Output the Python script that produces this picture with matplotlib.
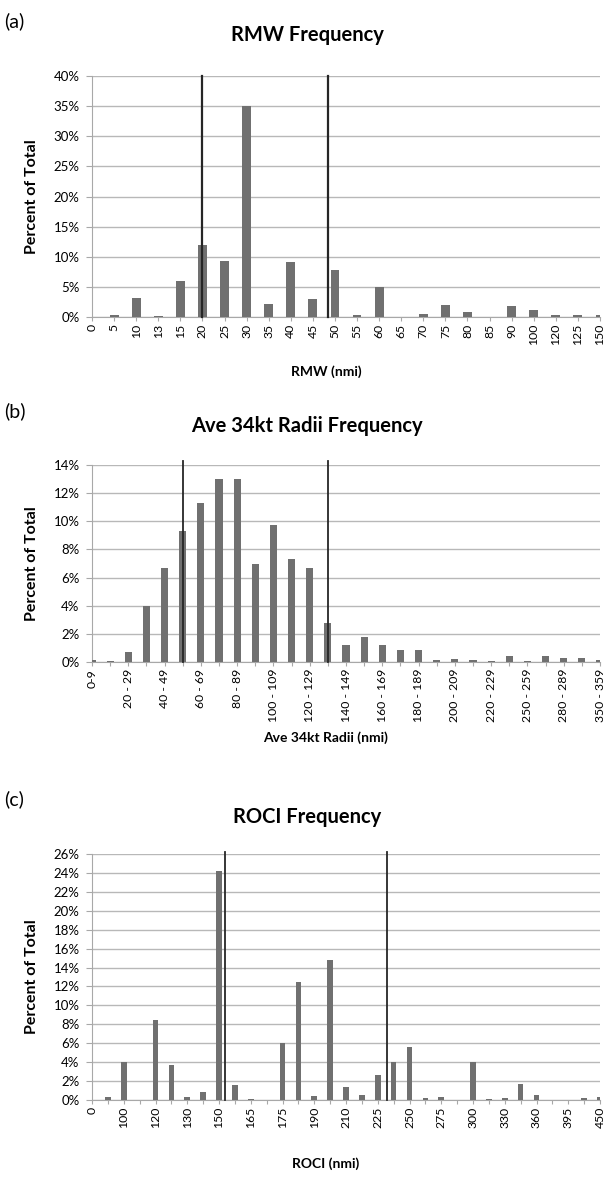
# Frecuencias de RMW, radio medio de 34 kt y ROCI (tres paneles tipo Excel)
import numpy as np
import matplotlib
matplotlib.use('Agg')
import matplotlib.pyplot as plt
from matplotlib.ticker import PercentFormatter

plt.rcParams['font.family'] = ['Lato', 'DejaVu Sans']

# (a) RMW
rmw_labels = ['0', '5', '10', '13', '15', '20', '25', '30', '35', '40', '45', '50',
              '55', '60', '65', '70', '75', '80', '85', '90', '100', '120', '125', '150']
rmw_pct = [0, 0.25, 3.1, 0.15, 5.9, 11.9, 9.25, 35.0, 2.1, 9.15, 3.0, 7.85,
           0.3, 5.0, 0, 0.55, 2.05, 0.8, 0, 1.75, 1.1, 0.3, 0.3, 0.25]
rmw_lines = [20, 48.4]

# (b) radio medio de 34 kt
r34_labels = ['0-9', '10 - 19', '20 - 29', '30 - 39', '40 - 49', '50 - 59', '60 - 69',
              '70 - 79', '80 - 89', '90 - 99', '100 - 109', '110 - 119', '120 - 129',
              '130 - 139', '140 - 149', '150 - 159', '160 - 169', '170 - 179',
              '180 - 189', '190 - 199', '200 - 209', '210 - 219', '220 - 229',
              '240 - 249', '250 - 259', '270 - 279', '280 - 289', '300 - 309', '350 - 359']
r34_pct = [0.17, 0.05, 0.74, 4.0, 6.65, 9.3, 11.3, 13.0, 13.0, 6.95, 9.75, 7.35, 6.65,
           2.8, 1.2, 1.75, 1.2, 0.87, 0.87, 0.14, 0.19, 0.14, 0.05, 0.4, 0.05, 0.4,
           0.27, 0.27, 0.14]
r34_lines = [50, 130]

# (c) ROCI
roci_labels = ['0', '90', '100', '110', '120', '125', '130', '140', '150', '160', '165',
               '170', '175', '180', '190', '200', '210', '220', '225', '240', '250',
               '260', '275', '280', '300', '325', '330', '350', '360', '375', '395',
               '400', '450']
roci_pct = [0, 0.28, 4.0, 0, 8.45, 3.7, 0.28, 0.8, 24.2, 1.55, 0.1, 0, 6.0, 12.45,
            0.42, 14.8, 1.35, 0.56, 2.6, 4.0, 5.6, 0.18, 0.32, 0, 4.0, 0.1, 0.25,
            1.7, 0.5, 0, 0, 0.18, 0.32]
roci_lines = [153.6, 233.5]

W, H = 609, 1177
fig = plt.figure(figsize=(W / 100, H / 100), dpi=100)

BAR = '#707070'
LINEA = '#262626'
GRID = '#b8b8b8'
EJE = '#a8a8a8'
IZQ, DER = 92, 600


def px_axes(left, top, right, bottom):
    return fig.add_axes([left / W, 1 - bottom / H, (right - left) / W, (bottom - top) / H])


def panel(top, bottom, labels, pct, ymax, ystep, lines, nums, every, bw, lw,
          letter, title, xlabel, ytop_line, title_y, letter_y, xlabel_y):
    ax = px_axes(IZQ, top, DER, bottom)
    x = np.arange(len(labels))
    ax.bar(x, pct, width=bw, color=BAR, zorder=3)
    pos = np.interp(lines, nums, x)
    for p in pos:
        ax.plot([p, p], [0, ytop_line], color=LINEA, lw=lw, zorder=4, clip_on=False)
    ax.set_xlim(0, len(labels) - 1)
    ax.set_ylim(0, ymax)
    ax.set_yticks(np.arange(0, ymax + 0.01, ystep))
    ax.yaxis.set_major_formatter(PercentFormatter(decimals=0))
    ax.set_xticks(x)
    ax.set_xticklabels([l if i % every == 0 else '' for i, l in enumerate(labels)],
                       rotation=90, fontsize=8.8)
    ax.tick_params(axis='y', labelsize=9.5, length=4, color=EJE, pad=5)
    ax.tick_params(axis='x', length=3, color=EJE, pad=2)
    ax.grid(axis='y', color=GRID, lw=1, zorder=0)
    for s in ['top', 'right']:
        ax.spines[s].set_visible(False)
    for s in ['left', 'bottom']:
        ax.spines[s].set_color(EJE)
    ax.set_ylabel('Percent of Total', fontsize=11.5, fontweight='bold')
    ax.yaxis.set_label_coords((39 - IZQ) / (DER - IZQ), 0.5)
    fig.text(307 / W, 1 - title_y / H, title, ha='center', va='center',
             fontsize=14.5, fontweight='bold')
    fig.text(4 / W, 1 - letter_y / H, letter, ha='left', va='center', fontsize=14)
    fig.text(326 / W, 1 - xlabel_y / H, xlabel, ha='center', va='center',
             fontsize=10, fontweight='bold')
    return ax


rmw_nums = [float(v) for v in rmw_labels]
panel(76, 317, rmw_labels, rmw_pct, 40, 5, rmw_lines, rmw_nums, 1, 0.4, 1.6,
      '(a)', 'RMW Frequency', 'RMW (nmi)', 40, 35, 21, 372)

r34_nums = [float(l.split('-')[0]) for l in r34_labels]
panel(465, 662, r34_labels, r34_pct, 14, 2, r34_lines, r34_nums, 2, 0.4, 1.3,
      '(b)', 'Ave 34kt Radii Frequency', 'Ave 34kt Radii (nmi)', 14.3, 426, 411, 738)

roci_nums = [float(v) for v in roci_labels]
panel(854, 1100, roci_labels, roci_pct, 26, 2, roci_lines, roci_nums, 2, 0.36, 1.3,
      '(c)', 'ROCI Frequency', 'ROCI (nmi)', 26.2, 817, 799, 1164)

plt.savefig('out.png', dpi=100)
